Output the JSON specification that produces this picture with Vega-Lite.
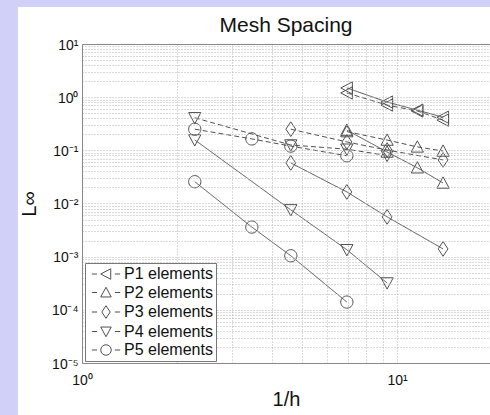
{
  "$schema": "https://vega.github.io/schema/vega-lite/v6.json",
  "width": 408,
  "height": 319,
  "autosize": {"type": "none"},
  "padding": {"left": 82, "top": 44, "right": 0, "bottom": 52},
  "background": "#d0d0f8",
  "title": {"text": "Mesh Spacing", "fontSize": 21, "fontWeight": "normal", "color": "#111", "font": "Liberation Sans", "offset": 11, "dy": 57, "baseline": "alphabetic", "frame": "group"},
  "config": {
    "font": "Liberation Sans",
    "view": {"stroke": "#888", "strokeWidth": 1},
    "axis": {
      "grid": true,
      "gridWidth": 1,
      "domainColor": "#888",
      "ticks": false,
      "labelFont": "Liberation Sans",
      "labelFontSize": 14,
      "labelColor": "#111",
      "labelOverlap": false,
      "labelBound": false,
      "labelFlush": false,
      "titleFont": "Liberation Sans",
      "titleFontSize": 20,
      "titleFontWeight": "normal",
      "titleColor": "#111"
    }
  },
  "datasets": {
    "errors": [
      {"series": "P1 elements", "kind": "solid", "inv_h": 6.93, "err": 1.49},
      {"series": "P1 elements", "kind": "solid", "inv_h": 9.3, "err": 0.81},
      {"series": "P1 elements", "kind": "solid", "inv_h": 11.6, "err": 0.57},
      {"series": "P1 elements", "kind": "solid", "inv_h": 14.0, "err": 0.42},
      {"series": "P1 elements", "kind": "dashed", "inv_h": 6.93, "err": 1.2},
      {"series": "P1 elements", "kind": "dashed", "inv_h": 9.3, "err": 0.71},
      {"series": "P1 elements", "kind": "dashed", "inv_h": 11.6, "err": 0.55},
      {"series": "P1 elements", "kind": "dashed", "inv_h": 14.0, "err": 0.37},
      {"series": "P2 elements", "kind": "solid", "inv_h": 6.93, "err": 0.24},
      {"series": "P2 elements", "kind": "solid", "inv_h": 9.3, "err": 0.093},
      {"series": "P2 elements", "kind": "solid", "inv_h": 11.6, "err": 0.047},
      {"series": "P2 elements", "kind": "solid", "inv_h": 14.0, "err": 0.0243},
      {"series": "P2 elements", "kind": "dashed", "inv_h": 6.93, "err": 0.225},
      {"series": "P2 elements", "kind": "dashed", "inv_h": 9.3, "err": 0.156},
      {"series": "P2 elements", "kind": "dashed", "inv_h": 11.6, "err": 0.116},
      {"series": "P2 elements", "kind": "dashed", "inv_h": 14.0, "err": 0.097},
      {"series": "P3 elements", "kind": "solid", "inv_h": 4.6, "err": 0.058},
      {"series": "P3 elements", "kind": "solid", "inv_h": 6.93, "err": 0.0165},
      {"series": "P3 elements", "kind": "solid", "inv_h": 9.3, "err": 0.0056},
      {"series": "P3 elements", "kind": "solid", "inv_h": 14.0, "err": 0.0014},
      {"series": "P3 elements", "kind": "dashed", "inv_h": 4.6, "err": 0.25},
      {"series": "P3 elements", "kind": "dashed", "inv_h": 6.93, "err": 0.144},
      {"series": "P3 elements", "kind": "dashed", "inv_h": 9.3, "err": 0.101},
      {"series": "P3 elements", "kind": "dashed", "inv_h": 14.0, "err": 0.066},
      {"series": "P4 elements", "kind": "solid", "inv_h": 2.28, "err": 0.157},
      {"series": "P4 elements", "kind": "solid", "inv_h": 4.6, "err": 0.0076},
      {"series": "P4 elements", "kind": "solid", "inv_h": 6.93, "err": 0.00135},
      {"series": "P4 elements", "kind": "solid", "inv_h": 9.3, "err": 0.00032},
      {"series": "P4 elements", "kind": "dashed", "inv_h": 2.28, "err": 0.41},
      {"series": "P4 elements", "kind": "dashed", "inv_h": 4.6, "err": 0.126},
      {"series": "P4 elements", "kind": "dashed", "inv_h": 6.93, "err": 0.105},
      {"series": "P4 elements", "kind": "dashed", "inv_h": 9.3, "err": 0.08},
      {"series": "P5 elements", "kind": "solid", "inv_h": 2.28, "err": 0.0257},
      {"series": "P5 elements", "kind": "solid", "inv_h": 3.46, "err": 0.0036},
      {"series": "P5 elements", "kind": "solid", "inv_h": 4.6, "err": 0.00104},
      {"series": "P5 elements", "kind": "solid", "inv_h": 6.93, "err": 0.00014},
      {"series": "P5 elements", "kind": "dashed", "inv_h": 2.28, "err": 0.25},
      {"series": "P5 elements", "kind": "dashed", "inv_h": 3.46, "err": 0.164},
      {"series": "P5 elements", "kind": "dashed", "inv_h": 4.6, "err": 0.12},
      {"series": "P5 elements", "kind": "dashed", "inv_h": 6.93, "err": 0.079}
    ]
  },
  "resolve": {"scale": {"shape": "independent"}, "legend": {"shape": "independent"}},
  "layer": [
    {
      "data": {"values": [{}]},
      "mark": {"type": "rect", "fill": "white", "clip": false},
      "encoding": {
        "x": {"datum": 0.626, "type": "quantitative"},
        "x2": {"datum": 30},
        "y": {"datum": 49.7, "type": "quantitative"},
        "y2": {"datum": 0.0000001}
      }
    },
    {
      "data": {"name": "errors"},
      "mark": {"type": "line", "color": "#505050", "strokeWidth": 1},
      "encoding": {
        "x": {
          "field": "inv_h", "type": "quantitative",
          "scale": {"type": "log", "domain": [1, 19.73], "nice": false},
          "axis": {
            "zindex": 1,
            "title": "1/h",
            "values": [1, 2, 3, 4, 5, 6, 7, 8, 9, 10],
            "gridColor": "#b4b4b4",
            "gridDash": [1, 2],
            "labelExpr": "abs(log(datum.value)/LN10 - round(log(datum.value)/LN10)) < 0.001 ? ('10' + (round(log(datum.value)/LN10) < 0 ? '⁻' : '') + ['⁰','¹','²','³','⁴','⁵','⁶','⁷','⁸','⁹'][abs(round(log(datum.value)/LN10))]) : ''",
            "labelPadding": 10,
            "titlePadding": 2
          }
        },
        "y": {
          "field": "err", "type": "quantitative",
          "scale": {"type": "log", "domain": [0.00001, 10], "nice": false},
          "axis": {
            "zindex": 1,
            "title": "L∞",
            "values": [0.00001, 0.00002, 0.00003, 0.00004, 0.00005, 0.00006, 0.00007, 0.00008, 0.00009, 0.0001, 0.0002, 0.0003, 0.0004, 0.0005, 0.0006, 0.0007, 0.0008, 0.0009, 0.001, 0.002, 0.003, 0.004, 0.005, 0.006, 0.007, 0.008, 0.009, 0.01, 0.02, 0.03, 0.04, 0.05, 0.06, 0.07, 0.08, 0.09, 0.1, 0.2, 0.3, 0.4, 0.5, 0.6, 0.7, 0.8, 0.9, 1, 2, 3, 4, 5, 6, 7, 8, 9, 10],
            "gridColor": {"condition": {"test": "datum.value >= 9.99", "value": "#888"}, "value": "#b4b4b4"},
            "gridDash": {"condition": {"test": "datum.value >= 9.99", "value": []}, "value": [1, 2]},
            "labelExpr": "abs(log(datum.value)/LN10 - round(log(datum.value)/LN10)) < 0.001 ? ('10' + (round(log(datum.value)/LN10) < 0 ? '⁻' : '') + ['⁰','¹','²','³','⁴','⁵','⁶','⁷','⁸','⁹'][abs(round(log(datum.value)/LN10))]) : ''",
            "labelPadding": 4,
            "labelOffset": 1,
            "titlePadding": 12
          }
        },
        "detail": {"field": "series"},
        "strokeDash": {
          "field": "kind", "type": "nominal",
          "scale": {"domain": ["solid", "dashed"], "range": [[1, 0], [5, 3]]},
          "legend": null
        }
      }
    },
    {
      "data": {"name": "errors"},
      "mark": {"type": "point", "filled": false, "stroke": "#505050", "strokeWidth": 1, "size": 150, "opacity": 1},
      "encoding": {
        "x": {"field": "inv_h", "type": "quantitative"},
        "y": {"field": "err", "type": "quantitative"},
        "shape": {
          "field": "series", "type": "nominal",
          "scale": {
            "domain": ["P1 elements", "P2 elements", "P3 elements", "P4 elements", "P5 elements"],
            "range": ["M0.9,-1L-1,0L0.9,1Z", "M-1,0.85L0,-1L1,0.85Z", "M0,-1.2L0.8,0L0,1.2L-0.8,0Z", "M-1,-0.85L0,1L1,-0.85Z", "M1,0A1,1,0,1,1,-1,0A1,1,0,1,1,1,0Z"]
          },
          "legend": null
        }
      }
    },
    {
      "data": {"name": "errors"},
      "mark": {"type": "point", "filled": false, "stroke": "#505050", "strokeWidth": 1, "size": 150, "opacity": 0},
      "encoding": {
        "x": {"field": "inv_h", "type": "quantitative"},
        "y": {"field": "err", "type": "quantitative"},
        "shape": {
          "field": "series", "type": "nominal",
          "scale": {
            "domain": ["P1 elements", "P2 elements", "P3 elements", "P4 elements", "P5 elements"],
            "range": ["M0.9,-1L-1,0L0.9,1ZM-2.7,0L-1.7,0M1.7,0L2.7,0", "M-1,0.85L0,-1L1,0.85ZM-2.7,0L-1.7,0M1.7,0L2.7,0", "M0,-1.2L0.8,0L0,1.2L-0.8,0ZM-2.7,0L-1.7,0M1.7,0L2.7,0", "M-1,-0.85L0,1L1,-0.85ZM-2.7,0L-1.7,0M1.7,0L2.7,0", "M1,0A1,1,0,1,1,-1,0A1,1,0,1,1,1,0ZM-2.7,0L-1.7,0M1.7,0L2.7,0"]
          },
          "legend": {
            "title": null,
            "orient": "none",
            "legendX": 3,
            "legendY": 219,
            "zindex": 2,
            "fillColor": "white",
            "strokeColor": "#777",
            "padding": 3,
            "rowPadding": 2.5,
            "symbolSize": 110,
            "symbolOffset": 10,
            "labelOffset": 10,
            "labelFontSize": 16,
            "labelFont": "Liberation Sans",
            "labelColor": "#111",
            "symbolOpacity": 1,
            "symbolStrokeColor": "#505050",
            "symbolStrokeWidth": 1,
            "symbolFillColor": "transparent"
          }
        }
      }
    }
  ]
}
